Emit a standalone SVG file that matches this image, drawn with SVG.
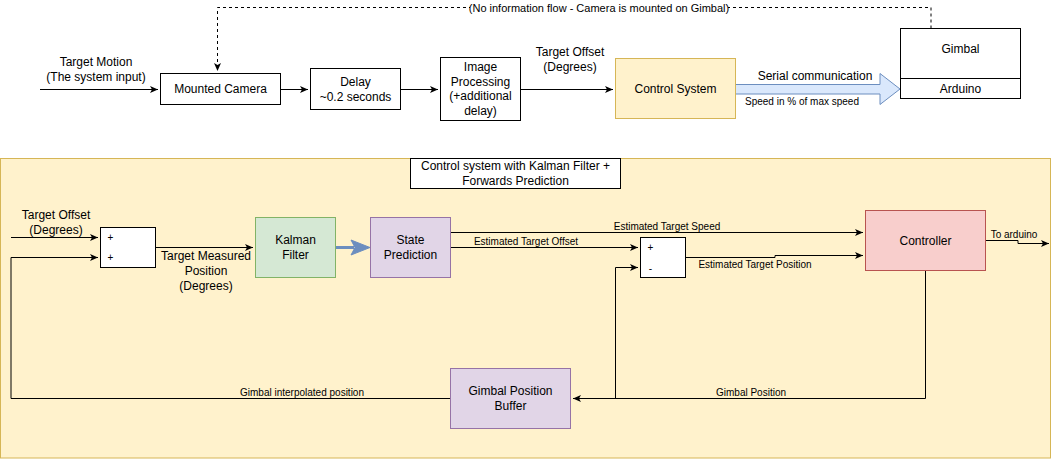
<svg xmlns="http://www.w3.org/2000/svg" width="1059" height="459" viewBox="0 0 1059 459">
<defs>
<style>
text{font-family:"Liberation Sans",Arial,sans-serif;fill:#000;text-anchor:middle;dominant-baseline:central}
.t12{font-size:12px}
.t11{font-size:11px}
.t10{font-size:10px}
.box{fill:#fff;stroke:#000;stroke-width:1}
.yel{fill:#fff2cc;stroke:#d6b656;stroke-width:1}
.grn{fill:#d5e8d4;stroke:#82b366;stroke-width:1}
.pur{fill:#e1d5e7;stroke:#9673a6;stroke-width:1}
.red{fill:#f8cecc;stroke:#b85450;stroke-width:1}
.ln{fill:none;stroke:#000;stroke-width:1}
.dash{fill:none;stroke:#000;stroke-width:1;stroke-dasharray:3 3}
</style>
<marker id="arr" markerWidth="10" markerHeight="8" refX="8" refY="3.5" orient="auto" markerUnits="userSpaceOnUse">
<path d="M0,0 L8,3.5 L0,7 L2,3.5 z" fill="#000"/>
</marker>
</defs>
<rect x="0" y="0" width="1059" height="459" fill="#fff"/>

<g id="container">
<rect class="yel" x="0.5" y="158.5" width="1050" height="299.5"/>
</g>

<g id="title">
<rect class="box" x="410.5" y="158.5" width="210" height="30"/>
<text class="t12" x="515.5" y="166">Control system with Kalman Filter +</text>
<text class="t12" x="515.5" y="181">Forwards Prediction</text>
</g>

<g id="connectors">
<!-- top -->
<path class="dash" d="M931,28.5 V7.5 H217.5 V71" marker-end="url(#arr)"/>
<rect x="470" y="1" width="258" height="13" fill="#fff"/>
<text class="t11" x="599" y="7.5">(No information flow - Camera is mounted on Gimbal)</text>
<path class="ln" d="M40,89.5 H158" marker-end="url(#arr)"/>
<path class="ln" d="M280,89.5 H308" marker-end="url(#arr)"/>
<path class="ln" d="M400,89.5 H438" marker-end="url(#arr)"/>
<path class="ln" d="M520,89.5 H613" marker-end="url(#arr)"/>
<path d="M735.5,84.5 H880 V73.5 L900,89 L880,104.5 V94 H735.5 Z" fill="#dae8fc" stroke="#6c8ebf" stroke-width="1"/>
<!-- bottom -->
<path class="ln" d="M11,237.5 H98" marker-end="url(#arr)"/>
<path class="ln" d="M11,398.5 V257.5 H98" marker-end="url(#arr)"/>
<path class="ln" d="M155,247.5 H253" marker-end="url(#arr)"/>
<path d="M335,247.5 H354" stroke="#6c8ebf" stroke-width="3" fill="none"/>
<path d="M351,240 L370,247.5 L351,255 L355,247.5 Z" fill="#6c8ebf" stroke="#6c8ebf"/>
<path class="ln" d="M450,232.5 H863" marker-end="url(#arr)"/>
<path class="ln" d="M450,247.5 H638" marker-end="url(#arr)"/>
<path class="ln" d="M685,257.5 H775 V255.5 H863" marker-end="url(#arr)"/>
<path class="ln" d="M985,240.5 H1018 V243.5 H1049" marker-end="url(#arr)"/>
<path class="ln" d="M925.5,270.5 V398.5 H573" marker-end="url(#arr)"/>
<path class="ln" d="M615.5,398.5 V267.5 H638" marker-end="url(#arr)"/>
<path class="ln" d="M11,398.5 H450"/>
</g>

<g id="labels">
<text class="t12" x="96" y="62">Target Motion</text>
<text class="t12" x="96" y="77">(The system input)</text>
<text class="t12" x="570" y="51.5">Target Offset</text>
<text class="t12" x="570" y="66.5">(Degrees)</text>
<text class="t12" x="815" y="75.5">Serial communication</text>
<text class="t10" x="802" y="101.5">Speed in % of max speed</text>
<text class="t12" x="56" y="215">Target Offset</text>
<text class="t12" x="56" y="230">(Degrees)</text>
<text class="t12" x="206" y="256">Target Measured</text>
<text class="t12" x="206" y="271">Position</text>
<text class="t12" x="206" y="285.5">(Degrees)</text>
<text class="t10" x="667" y="226">Estimated Target Speed</text>
<text class="t10" x="526" y="241.5">Estimated Target Offset</text>
<text class="t10" x="755" y="264">Estimated Target Position</text>
<text class="t10" x="1014" y="234.5">To arduino</text>
<text class="t10" x="302" y="392">Gimbal interpolated position</text>
<text class="t10" x="751" y="392">Gimbal Position</text>
</g>

<g id="mounted-camera">
<rect class="box" x="160.5" y="73.5" width="120" height="31"/>
<text class="t12" x="220.5" y="89">Mounted Camera</text>
</g>
<g id="delay">
<rect class="box" x="310.5" y="68.5" width="90" height="41"/>
<text class="t12" x="355.5" y="81.5">Delay</text>
<text class="t12" x="355.5" y="96.5">~0.2 seconds</text>
</g>
<g id="image-processing">
<rect class="box" x="440.5" y="57.5" width="80" height="63"/>
<text class="t12" x="480.5" y="67">Image</text>
<text class="t12" x="480.5" y="81.5">Processing</text>
<text class="t12" x="480.5" y="96">(+additional</text>
<text class="t12" x="480.5" y="110.5">delay)</text>
</g>
<g id="control-system">
<rect class="yel" x="615.5" y="58.5" width="120" height="60"/>
<text class="t12" x="675.5" y="88.5">Control System</text>
</g>
<g id="gimbal">
<rect class="box" x="900.5" y="28.5" width="120" height="70"/>
<line class="ln" x1="900.5" y1="78.5" x2="1020.5" y2="78.5"/>
<text class="t12" x="960.5" y="49">Gimbal</text>
<text class="t12" x="960.5" y="88.5">Arduino</text>
</g>

<g id="sum">
<rect class="box" x="100.5" y="227.5" width="55" height="40"/>
<text class="t10" x="110.5" y="237">+</text>
<text class="t10" x="110.5" y="257">+</text>
</g>
<g id="kalman">
<rect class="grn" x="255.5" y="217.5" width="80" height="60"/>
<text class="t12" x="295.5" y="240">Kalman</text>
<text class="t12" x="295.5" y="255">Filter</text>
</g>
<g id="state-prediction">
<rect class="pur" x="370.5" y="217.5" width="80" height="60"/>
<text class="t12" x="410.5" y="240">State</text>
<text class="t12" x="410.5" y="255">Prediction</text>
</g>
<g id="subtract">
<rect class="box" x="640.5" y="237.5" width="45" height="40"/>
<text class="t10" x="650.5" y="247">+</text>
<text class="t10" x="650.5" y="268">-</text>
</g>
<g id="controller">
<rect class="red" x="865.5" y="210.5" width="120" height="60"/>
<text class="t12" x="925.5" y="241">Controller</text>
</g>
<g id="gimbal-position-buffer">
<rect class="pur" x="450.5" y="368.5" width="120" height="60"/>
<text class="t12" x="510.5" y="391">Gimbal Position</text>
<text class="t12" x="510.5" y="405.5">Buffer</text>
</g>
</svg>
